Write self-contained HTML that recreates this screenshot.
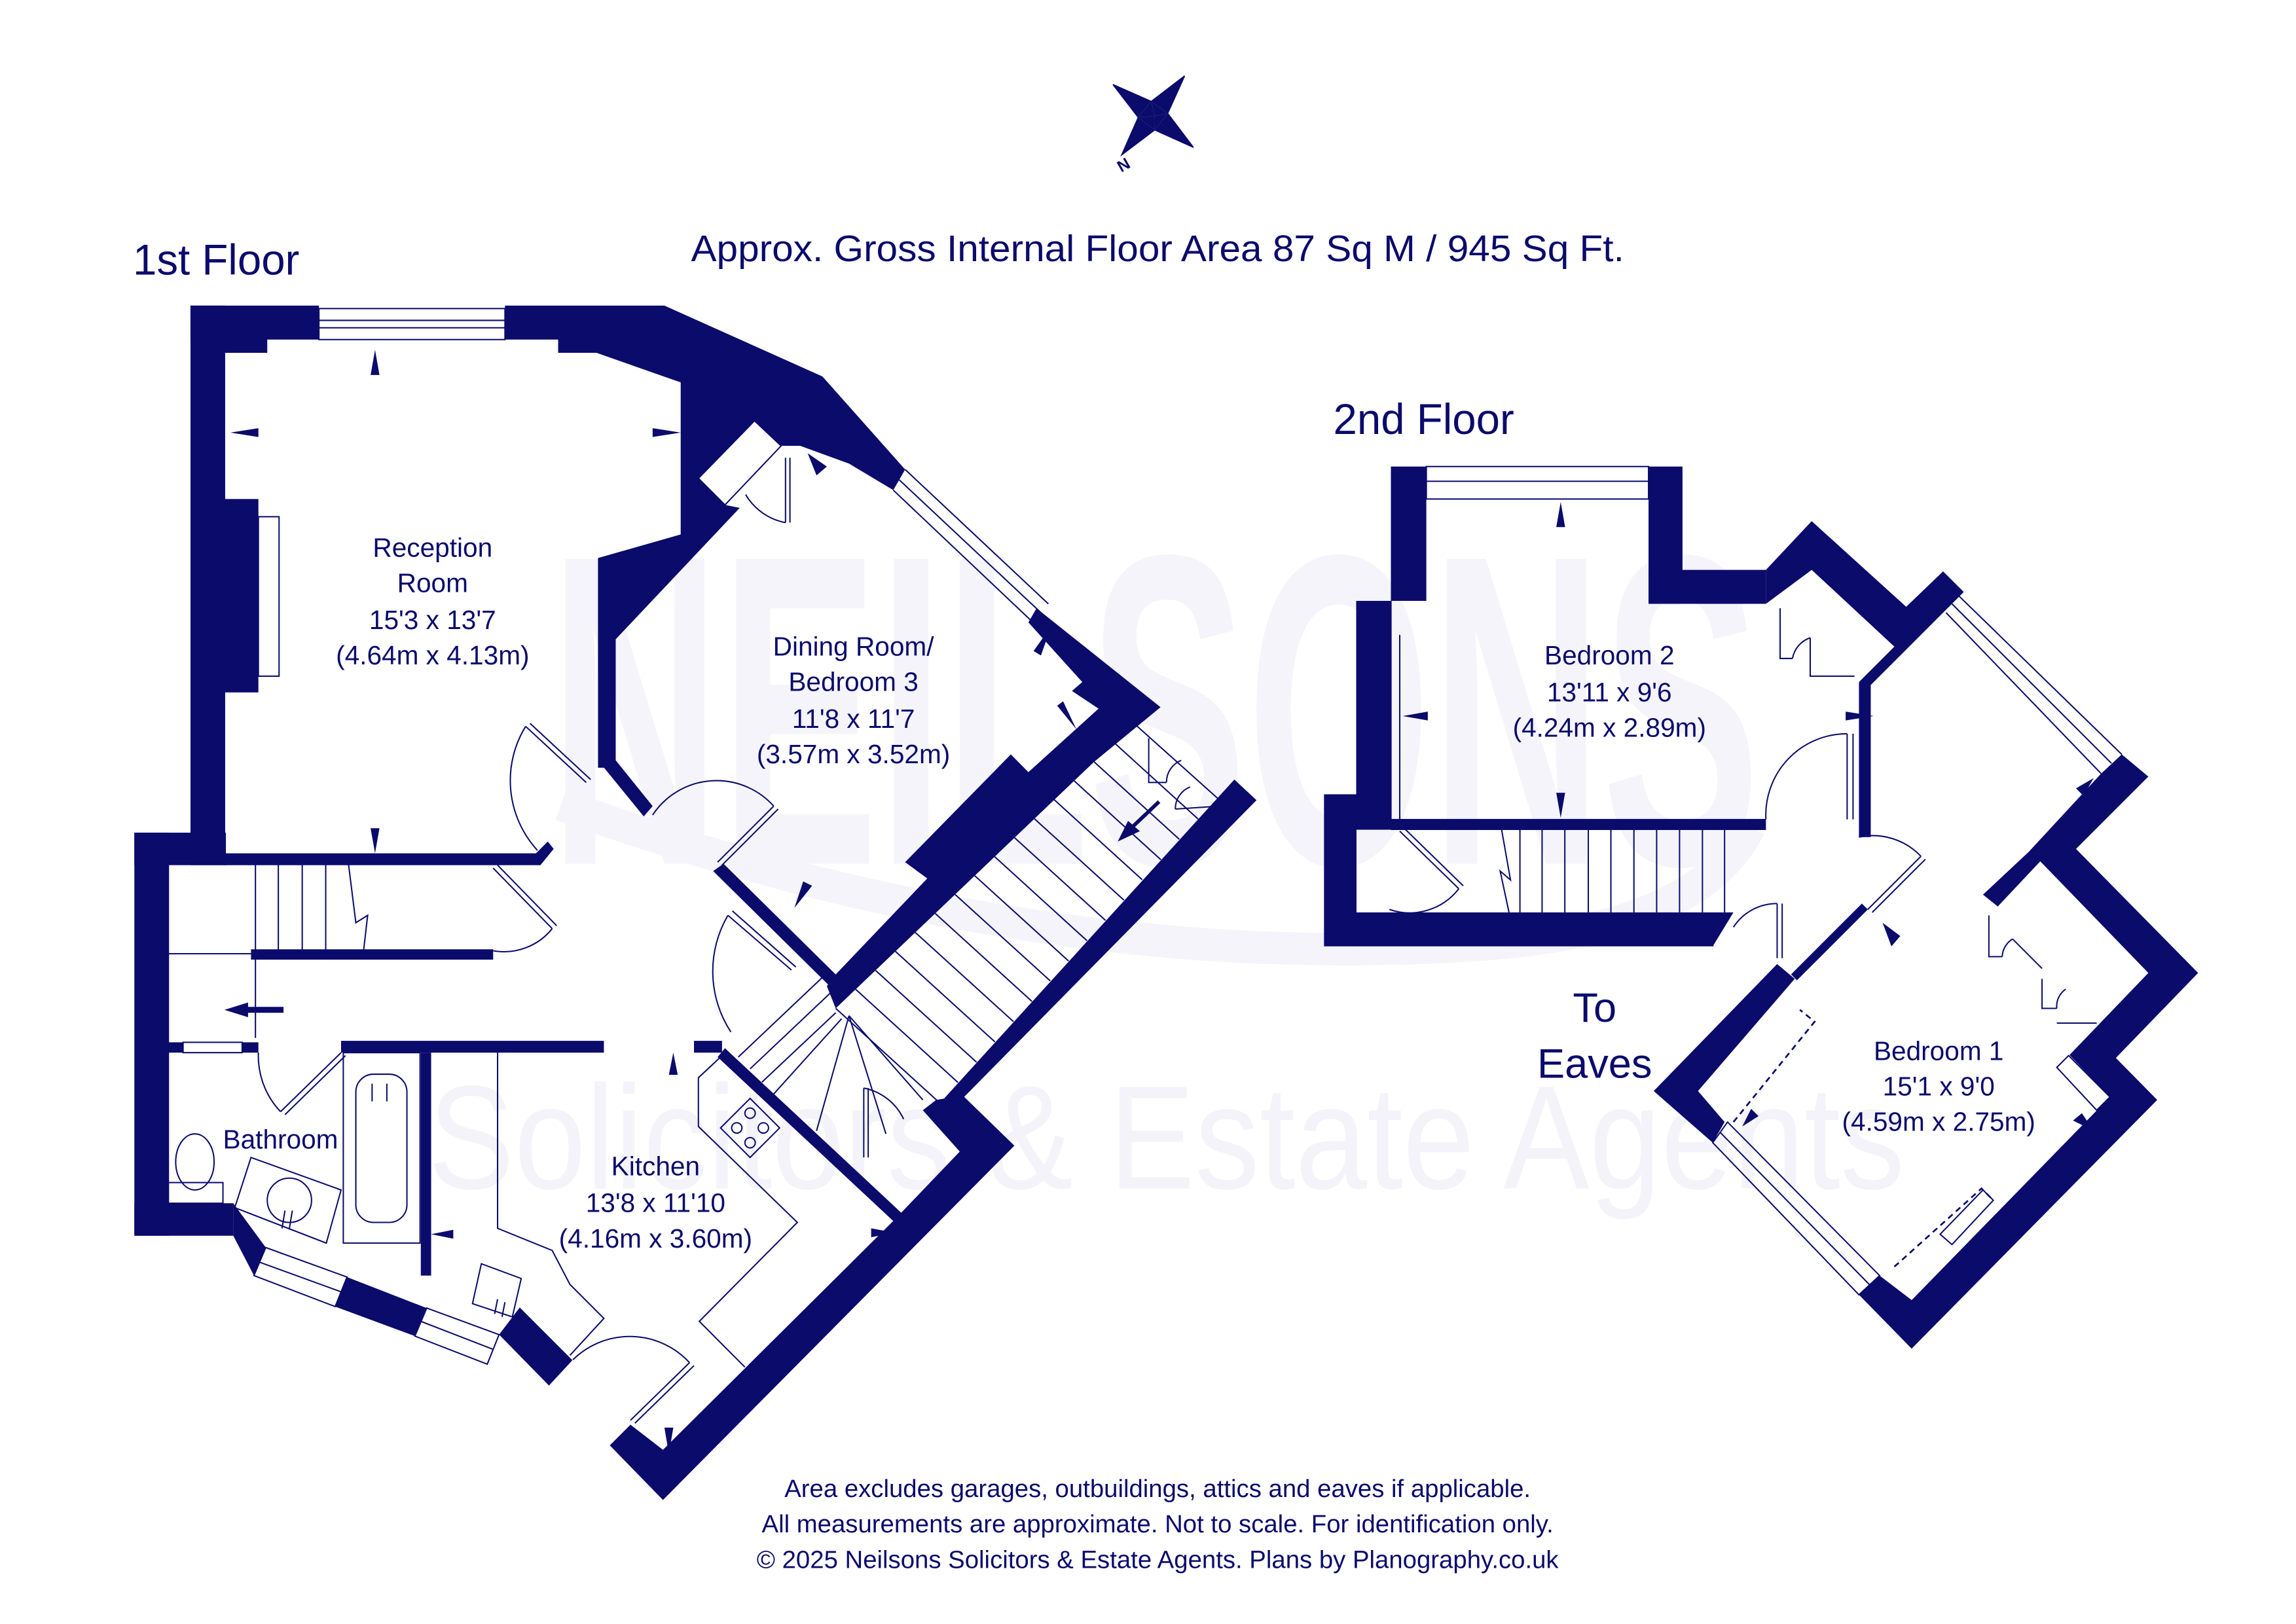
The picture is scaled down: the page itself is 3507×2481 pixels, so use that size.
<!DOCTYPE html>
<html><head><meta charset="utf-8"><style>
html,body{margin:0;padding:0;background:#fff}
svg{display:block}
text{font-family:"Liberation Sans",sans-serif;fill:#0b0b6c}
</style></head><body>
<svg width="3507" height="2481" viewBox="0 0 1555 1100" preserveAspectRatio="none" xmlns="http://www.w3.org/2000/svg">
<rect width="1555" height="1100" fill="#fff"/>
<!-- watermark -->
<g>
<text x="372" y="585" font-size="300" font-weight="bold" textLength="820" lengthAdjust="spacingAndGlyphs" style="fill:#f4f4fa">NEILSONS</text>
<path d="M380,545 Q700,660 1000,640 Q1150,630 1185,560" fill="none" stroke="#f4f4fa" stroke-width="22"/>
<text x="290" y="805" font-size="100" textLength="1000" lengthAdjust="spacingAndGlyphs" style="fill:#f3f3f9">Solicitors &amp; Estate Agents</text>
</g>

<g fill="#0b0b6c" stroke="none">
<polygon points="753.8,57.3 779.7,68.7 770.9,79.5" />
<polygon points="802.3,51.4 779.7,68.7 790.8,76.8" />
<polygon points="808.2,99.8 790.8,76.8 782,88" />
<polygon points="759.7,104.9 782,88 770.9,79.5" />
<polygon points="779.7,68.7 781.9,78.6 770.9,79.5" />
<polygon points="790.8,76.8 781.9,78.6 779.7,68.7" />
<polygon points="782,88 781.9,78.6 790.8,76.8" />
<polygon points="770.9,79.5 781.9,78.6 782,88" />
</g>
<g fill="none" stroke="#0b0b6c" stroke-width="0.8">
<polygon points="753.8,57.3 779.7,68.7 802.3,51.4 790.8,76.8 808.2,99.8 782,88 759.7,104.9 770.9,79.5"/>
</g>
<text x="757" y="116" font-size="11" font-weight="bold" transform="rotate(-30 760 112)">N</text>

<text x="90" y="186" font-size="29">1st Floor</text>
<text x="903" y="294" font-size="29">2nd Floor</text>
<text x="468" y="177" font-size="25" textLength="632" lengthAdjust="spacingAndGlyphs">Approx. Gross Internal Floor Area 87 Sq M / 945 Sq Ft.</text>

<g fill="none" stroke="#0b0b6c" stroke-width="0.9">
<rect x="216" y="209" width="126" height="21"/>
<line x1="216" y1="217" x2="342" y2="217"/><line x1="216" y1="222" x2="342" y2="222"/>
<rect x="175" y="350" width="14" height="108"/>
<line x1="613" y1="318" x2="710" y2="409"/><line x1="605" y1="332" x2="699" y2="421"/>
<line x1="609" y1="325" x2="705" y2="415"/>
<polygon points="473,324 511,285 529,302 491,342"/>
<line x1="532" y1="310" x2="532" y2="354"/><line x1="535" y1="310" x2="535" y2="354"/>
<path d="M532,354 A40,40 0 0 1 505,335"/>
<line x1="356" y1="492" x2="397" y2="530"/><line x1="359" y1="490" x2="400" y2="528"/>
<path d="M356,492 A70,70 0 0 0 364,576"/>
<line x1="486" y1="584" x2="524" y2="546"/><line x1="489" y1="586" x2="527" y2="548"/>
<path d="M442,552 A52,52 0 0 1 524,546"/>
<line x1="493" y1="620" x2="536" y2="657"/><line x1="496" y1="617" x2="539" y2="655"/>
<path d="M493,620 A75,75 0 0 0 495,699"/>
<line x1="173" y1="585" x2="173" y2="646"/><line x1="188.5" y1="585" x2="188.5" y2="646"/>
<line x1="204.7" y1="585" x2="204.7" y2="646"/><line x1="220.6" y1="585" x2="220.6" y2="646"/>
<polyline points="236,585 241,625 249,620 246,646"/>
<line x1="114" y1="646" x2="170" y2="646"/>
<line x1="173" y1="649" x2="173" y2="703"/>
<line x1="334" y1="588" x2="374" y2="629"/><line x1="337" y1="586" x2="377" y2="627"/>
<path d="M374,629 A42,42 0 0 1 334,644"/>
<rect x="124" y="706" width="40" height="7"/>
<line x1="190" y1="753" x2="231" y2="713"/><line x1="193" y1="755" x2="234" y2="715"/>
<path d="M175,713 A55,55 0 0 0 190,753"/>
<rect x="232.5" y="713" width="52" height="129"/>
<rect x="241" y="727.6" width="34.6" height="100.4" rx="12"/>
<line x1="252" y1="734" x2="252" y2="746"/><line x1="262" y1="734" x2="262" y2="746"/>
<ellipse cx="132" cy="787" rx="13" ry="19"/>
<rect x="114" y="801" width="37" height="14"/>
<polygon points="170,784 231,806 221,842 159,818"/>
<circle cx="196" cy="813" r="15"/>
<line x1="193" y1="820" x2="191" y2="832"/><line x1="198" y1="820" x2="196" y2="832"/>
<polygon points="180,845 235,865 227,885 172,864"/>
<line x1="176" y1="855" x2="231" y2="875"/>
<polygon points="289,886 338,904 330,924 281,905"/>
<line x1="285" y1="895" x2="334" y2="914"/>
<polyline points="337,713 337,832 374,847 386,870 409,893 386,918"/>
<polygon points="326,856 353,866 347,892 320,883" />
<line x1="337" y1="880" x2="335" y2="890"/><line x1="342" y1="882" x2="340" y2="892"/>
<polyline points="488,716 473,730 473,763 540,828 473.6,895 504.5,926"/>
<polygon points="508,744 528,764 508,784 488,764"/>
<circle cx="508" cy="754" r="3.5"/><circle cx="499" cy="764" r="3.5"/><circle cx="517" cy="764" r="3.5"/><circle cx="508" cy="774" r="3.5"/>
<line x1="427" y1="962" x2="467" y2="923"/><line x1="430" y1="964" x2="470" y2="925"/>
<path d="M388,921 A55,55 0 0 1 467,923"/>
<!-- main stair treads -->
<line x1="768" y1="490" x2="825" y2="541"/>
<line x1="754.5" y1="503" x2="811.5" y2="554.8"/>
<line x1="741" y1="516" x2="798.7" y2="568.5"/>
<line x1="727.5" y1="528.9" x2="786.2" y2="582.3"/>
<line x1="714" y1="541.7" x2="773.6" y2="595.9"/>
<line x1="700.6" y1="554.6" x2="761.2" y2="609.7"/>
<line x1="687.1" y1="567.4" x2="748.7" y2="623.4"/>
<line x1="673.7" y1="580.3" x2="736.2" y2="637.2"/>
<line x1="660.2" y1="593.2" x2="723.7" y2="650.9"/>
<line x1="646.8" y1="605.8" x2="711.3" y2="664.4"/>
<line x1="633.4" y1="618.7" x2="698.9" y2="678.3"/>
<line x1="619.9" y1="631.6" x2="686.4" y2="692"/>
<line x1="606.4" y1="644.4" x2="673.8" y2="705.7"/>
<line x1="593" y1="657.3" x2="661.4" y2="719.5"/>
<line x1="579.5" y1="670.1" x2="648.8" y2="733.2"/>
<line x1="566" y1="683" x2="636.3" y2="746.9"/>
<line x1="500" y1="716" x2="557" y2="662"/>
<line x1="508" y1="724" x2="563" y2="672"/>
<line x1="516" y1="733" x2="566" y2="686"/>
<line x1="524" y1="741" x2="570" y2="690"/>
<line x1="575" y1="688" x2="553" y2="766"/>
<line x1="575" y1="688" x2="600" y2="768"/>
<line x1="575" y1="688" x2="625" y2="745"/>
<line x1="585" y1="737" x2="585" y2="784"/><line x1="588" y1="737" x2="588" y2="784"/>
<path d="M585,737 A38,38 0 0 1 612,758"/>
<polyline points="778,500 778,530 790,530"/>
<path d="M790,530 A16,16 0 0 1 800,515"/>
<polyline points="796,548 826,546"/>
<path d="M796,548 A16,16 0 0 1 806,533"/>
</g>

<g fill="#0b0b6c">
<rect x="129" y="207" width="87" height="23"/>
<rect x="342" y="207" width="108" height="23"/>
<rect x="129" y="207" width="23.5" height="379"/>
<rect x="152" y="228" width="29" height="11"/>
<rect x="152" y="338" width="23" height="131"/>
<polygon points="378,228 450,207 557,255 613,318 605,332 575,314 542,302 529,302 511,285 473,324 491,342 501,344 417,433 417,520 405,520 405,378 461,362 461,259 404,239 378,239"/>
<polygon points="405,515 417,515 442,546 436,553"/>
<rect x="91" y="564" width="62" height="22"/>
<polygon points="152,578 363,578 371,570 375,575 366,586 152,586"/>
<rect x="91" y="564" width="23.5" height="273"/>
<rect x="91" y="815" width="67" height="22"/>
<rect x="170" y="643" width="164" height="7"/>
<rect x="114" y="706" width="10" height="7"/>
<rect x="164" y="706" width="11" height="7"/>
<rect x="231" y="705" width="178" height="8"/>
<rect x="470" y="705" width="19" height="8"/>
<rect x="285" y="713" width="7" height="151"/>
<polygon points="158,815 180,845 172,864 158,837"/>
<polygon points="235,865 289,886 281,905 227,885"/>
<polygon points="338,904 352,885.6 387.7,921.3 371.8,938.5"/>
<polygon points="702,412 786,479 741,516 566,683 560,668 566,660 628,595 613,584 684.6,511 696.5,523 744,480 726,468 733,462 696.5,421.6"/>
<polygon points="483,590 490,585 570,664 564,670"/>
<polygon points="634,750 836,528 851,542 652,744"/>
<polygon points="413,979 427,965 449,982 606,826 650,780 625,752 634,745 652,742 687,776 449,1016"/>
<polygon points="486,716 491,710 611,822 606,828"/>
<polygon points="254,237 251,254 257,254"/>
<polygon points="156,293 175,290 175,296"/>
<polygon points="461,293 442,290 442,296"/>
<polygon points="254,578 251,561 257,561"/>
<polygon points="547,307 560,316 553,322"/>
<polygon points="712,424 700,441 705,444"/>
<polygon points="729,494 716,478 720,475"/>
<polygon points="538,615 550,600 544,597"/>
<polygon points="152,684 168,679 168,689"/><rect x="166" y="682" width="26" height="4"/>
<polygon points="456,713 453,728 459,728"/>
<polygon points="292,836 307,833 307,839"/>
<polygon points="606,835 590,832 590,838"/>
<polygon points="453,985 450,967 456,967"/>
<polygon points="757,570 772,563 764,556"/><line x1="766" y1="561" x2="785" y2="543" stroke="#0b0b6c" stroke-width="2.5"/>
</g>

<g fill="none" stroke="#0b0b6c" stroke-width="0.9">
<rect x="966" y="316" width="150.5" height="22"/>
<line x1="966" y1="326" x2="1116.5" y2="326"/>
<line x1="948" y1="430" x2="948" y2="555"/>
<polyline points="1017,562 1023,596 1016,590 1022,618"/>
<line x1="1029.4" y1="562" x2="1029.4" y2="618"/><line x1="1044.4" y1="562" x2="1044.4" y2="618"/>
<line x1="1059.8" y1="562" x2="1059.8" y2="618"/><line x1="1075.7" y1="562" x2="1075.7" y2="618"/>
<line x1="1091" y1="562" x2="1091" y2="618"/><line x1="1106.6" y1="562" x2="1106.6" y2="618"/>
<line x1="1122" y1="562" x2="1122" y2="618"/><line x1="1137.5" y1="562" x2="1137.5" y2="618"/>
<line x1="1153" y1="562" x2="1153" y2="618"/><line x1="1168" y1="562" x2="1168" y2="618"/>
<line x1="948" y1="563" x2="988" y2="602"/><line x1="951" y1="561" x2="991" y2="600"/>
<path d="M988,602 A42,42 0 0 1 941,616"/>
<line x1="1251" y1="497" x2="1251" y2="555"/><line x1="1255" y1="497" x2="1255" y2="555"/>
<path d="M1251,497 A55,55 0 0 0 1196,555"/>
<line x1="1203.6" y1="612" x2="1203.6" y2="649"/><line x1="1207" y1="612" x2="1207" y2="649"/>
<path d="M1203.6,612 A35,35 0 0 0 1174,628"/>
<line x1="1265" y1="616" x2="1301" y2="580"/><line x1="1268" y1="618" x2="1304" y2="582"/>
<path d="M1259,567 A45,45 0 0 1 1301,580"/>
<polyline points="1205.6,412 1205.6,446 1214,446"/>
<path d="M1214,446 A18,18 0 0 1 1226,432"/>
<polyline points="1226,432 1226,458 1256,458"/>
<line x1="1326" y1="403" x2="1437" y2="511"/><line x1="1318" y1="415" x2="1423" y2="524"/>
<line x1="1322" y1="409" x2="1430" y2="517"/>
<polygon points="1160,774 1259,877 1273,864 1170,760"/>
<line x1="1165" y1="767" x2="1266" y2="870"/>
<polygon points="1401,715 1429,743 1420,752 1393,723"/>
<polyline points="1347,620 1347,648 1356,648"/>
<path d="M1356,648 A15,15 0 0 1 1363,636"/>
<polyline points="1363,636 1383,656"/>
<polyline points="1383,663 1383,683 1393,683"/>
<path d="M1393,683 A14,14 0 0 1 1399,670"/>
<line x1="1393" y1="693" x2="1420" y2="693"/>
</g>
<g fill="none" stroke="#0b0b6c" stroke-width="1.2" stroke-dasharray="4,3">
<polyline points="1174,760 1229,692 1219,684"/>
<polyline points="1283,858 1342,805 1350,813"/>
</g>
<polygon points="1343,806 1350,813 1322,843 1314,836" fill="none" stroke="#0b0b6c" stroke-width="0.9"/>

<g fill="#0b0b6c">
<rect x="942" y="316" width="24" height="91"/>
<rect x="918.5" y="407" width="24" height="155"/>
<rect x="896.7" y="538" width="22" height="103"/>
<rect x="942" y="554.7" width="254" height="7.5"/>
<rect x="918.5" y="618" width="242" height="23"/>
<polygon points="1160,641 1174,618 1160,618"/>
<rect x="1116.5" y="316" width="23" height="93"/>
<rect x="1116.5" y="386" width="79.5" height="23"/>
<polygon points="1196,386 1227,353 1291,411 1316,387 1330,401 1267,464 1267,567 1259,567 1259,462 1283,438 1227,386 1196,409"/>
<polygon points="1423,524 1437,511 1455,526 1406,575 1488.7,659 1433,716.6 1461,745 1294.7,913.5 1259,877 1273,864 1294.7,880.6 1429,743 1401.6,714.6 1455,659 1381.8,583.4 1353,614 1343,606 1374,577"/>
<polygon points="1120,739 1203.6,653 1215.5,663 1150,739 1168,760 1160,774"/>
<polygon points="1213,660 1261,612 1265,616 1217,664"/>
<polygon points="1057,340 1054,357 1060,357"/>
<polygon points="950,485 967,482 967,488"/>
<polygon points="1269,485 1250,482 1250,488"/>
<polygon points="1057,554 1054,537 1060,537"/>
<polygon points="1275,625 1281,641 1287,634"/>
<polygon points="1418,527 1411,539 1406,534"/>
<polygon points="1180,763 1186,751 1191,756"/>
<polygon points="1418,766 1404,759 1410,754"/>
</g>

<g font-size="18" text-anchor="middle">
<text x="293" y="377">Reception</text>
<text x="293" y="401">Room</text>
<text x="293" y="426">15'3 x 13'7</text>
<text x="293" y="450">(4.64m x 4.13m)</text>
<text x="578" y="444">Dining Room/</text>
<text x="578" y="468">Bedroom 3</text>
<text x="578" y="493">11'8 x 11'7</text>
<text x="578" y="517">(3.57m x 3.52m)</text>
<text x="444" y="796">Kitchen</text>
<text x="444" y="821">13'8 x 11'10</text>
<text x="444" y="845">(4.16m x 3.60m)</text>
<text x="190" y="778">Bathroom</text>
<text x="1090" y="450">Bedroom 2</text>
<text x="1090" y="475">13'11 x 9'6</text>
<text x="1090" y="499">(4.24m x 2.89m)</text>
<text x="1313" y="718">Bedroom 1</text>
<text x="1313" y="742">15'1 x 9'0</text>
<text x="1313" y="766">(4.59m x 2.75m)</text>
<text x="1080" y="692" font-size="28">To</text>
<text x="1080" y="730" font-size="28">Eaves</text>
<text x="784" y="1014" font-size="17">Area excludes garages, outbuildings, attics and eaves if applicable.</text>
<text x="784" y="1038" font-size="17">All measurements are approximate. Not to scale. For identification only.</text>
<text x="784" y="1062" font-size="17">© 2025 Neilsons Solicitors &amp; Estate Agents. Plans by Planography.co.uk</text>
</g>
</svg>
</body></html>
